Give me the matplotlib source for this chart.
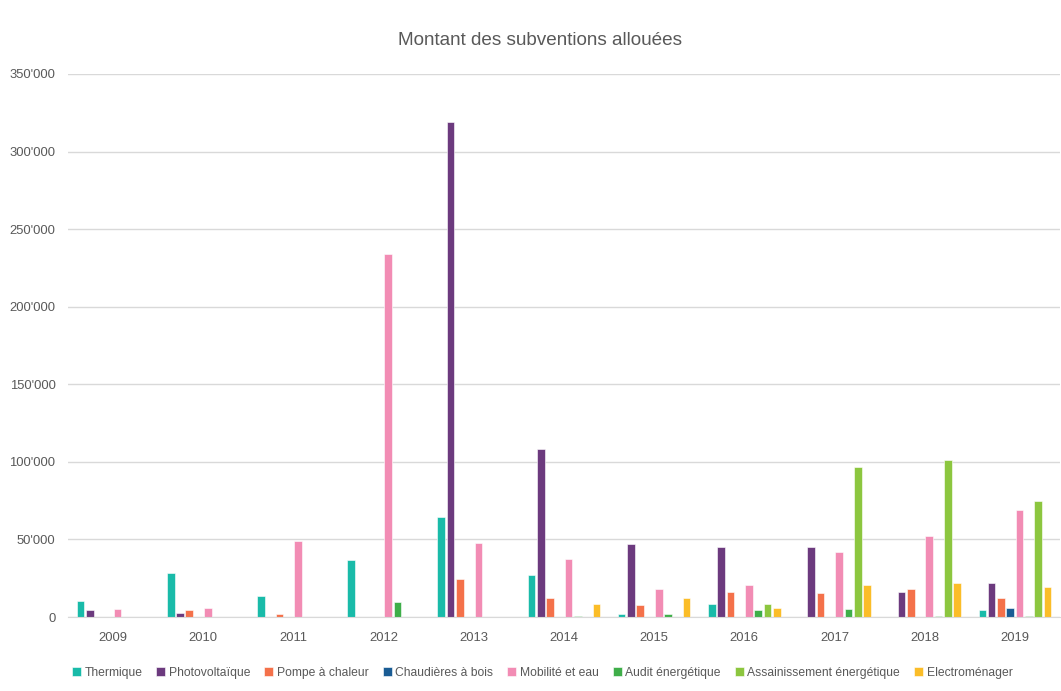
import numpy as np
import matplotlib.pyplot as plt
from matplotlib.ticker import FuncFormatter

plt.rcParams['font.family'] = ['Liberation Sans', 'DejaVu Sans']

# Donnees : montant des subventions par annee et par categorie
annees = ['2009', '2010', '2011', '2012', '2013', '2014', '2015', '2016', '2017', '2018', '2019']
categories = ['Thermique', 'Photovoltaïque', 'Pompe à chaleur', 'Chaudières à bois',
              'Mobilité et eau', 'Audit énergétique', 'Assainissement énergétique', 'Electroménager']
thermique = [10500, 28500, 13800, 36900, 64200, 27400, 2000, 8600, 0, 0, 4500]
photovoltaique = [4700, 2800, 0, 0, 319000, 108200, 47000, 45300, 45300, 16400, 22200]
pompe = [0, 4700, 2000, 0, 24800, 12000, 7800, 16400, 15500, 18100, 12000]
chaudieres = [0, 0, 0, 0, 0, 0, 0, 0, 0, 0, 6000]
mobilite = [5400, 6000, 48700, 233800, 47800, 37500, 18100, 20500, 41800, 52100, 69000]
audit = [0, 0, 0, 9700, 0, 800, 2000, 4500, 5400, 800, 800]
assainissement = [0, 0, 0, 0, 0, 0, 0, 8600, 96400, 101300, 75000]
electromenager = [0, 0, 0, 0, 0, 8600, 12000, 6000, 20400, 22200, 19600]

series = [thermique, photovoltaique, pompe, chaudieres, mobilite, audit, assainissement, electromenager]
couleurs = ['#19bba9', '#6c3a7e', '#f4714a', '#1a5c94', '#f28cb4', '#3fae49', '#8cc63f', '#fbbd28']

fig = plt.figure(figsize=(10.61, 6.91), dpi=100)
ax = fig.add_axes([0.064, 0.107, 0.935, 0.786])

x = np.arange(len(annees))
pas = 0.103
largeur = 0.085
for i, (valeurs, nom, c) in enumerate(zip(series, categories, couleurs)):
    ax.bar(x + (i - 3.5) * pas, valeurs, largeur, color=c, label=nom,
           edgecolor='white', linewidth=0.4)

ax.set_xlim(-0.5, len(annees) - 0.5)
ax.set_ylim(0, 350000)
ax.set_yticks(np.arange(0, 350001, 50000))
ax.yaxis.set_major_formatter(FuncFormatter(lambda v, p: f"{int(v):,}".replace(',', "'")))
ax.set_xticks(x)
ax.set_xticklabels(annees)
ax.grid(axis='y', color='#d9d9d9', linewidth=1)
ax.set_axisbelow(True)
for s in ['top', 'right', 'left']:
    ax.spines[s].set_visible(False)
ax.spines['bottom'].set_color('#d9d9d9')
ax.tick_params(length=0, colors='#595959', labelsize=9.4)
ax.tick_params(axis='x', pad=11)
ax.tick_params(axis='y', pad=9)

fig.text(0.509, 0.942, 'Montant des subventions allouées', ha='center', va='center',
         fontsize=13.6, color='#595959')
fig.legend(loc='center', bbox_to_anchor=(0.511, 0.026), ncol=8, frameon=False,
           fontsize=8.7, labelcolor='#595959', handlelength=0.75, handleheight=0.75,
           handletextpad=0.3, columnspacing=1.15)

fig.savefig('out.png', dpi=100)
